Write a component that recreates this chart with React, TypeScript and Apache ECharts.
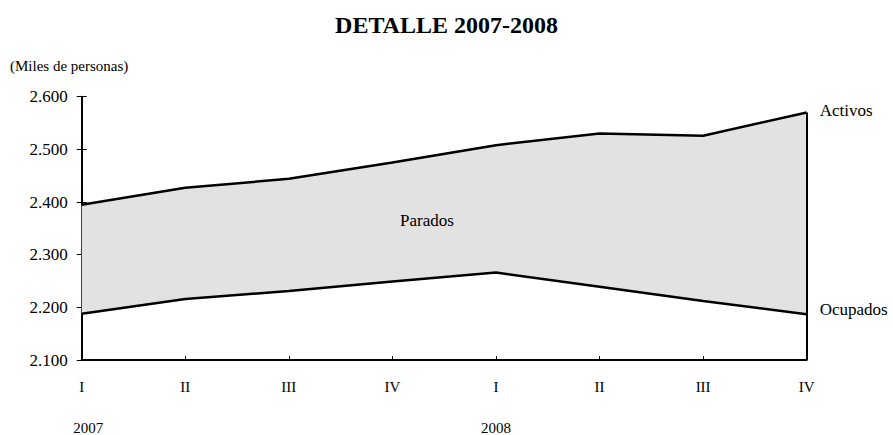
import React, { useEffect, useRef } from "react";
import * as echarts from "echarts";

const quarters = ["I", "II", "III", "IV", "I", "II", "III", "IV"];
const years = ["2007", "", "", "", "2008", "", "", ""];
const activos = [2395, 2427, 2444, 2475, 2508, 2530, 2526, 2570];
const ocupados = [2188, 2216, 2231, 2249, 2266, 2239, 2212, 2187];
const yTicks = { min: 2100, max: 2600, interval: 100 };

const FONT = "Liberation Serif";

function fmt(v: number) {
  const s = String(Math.round(v));
  return s.length > 3 ? s.slice(0, s.length - 3) + "." + s.slice(-3) : s;
}

export default function App() {
  const ref = useRef<HTMLDivElement>(null);
  useEffect(() => {
    document.body.style.margin = "0";
    const chart = echarts.init(ref.current!, undefined, { renderer: "svg" });
    const parados = activos.map((a, i) => a - ocupados[i]);
    const last = quarters.length - 1;
    chart.setOption({
      animation: false,
      backgroundColor: "#ffffff",
      title: {
        text: "DETALLE 2007-2008",
        left: "center",
        top: 8,
        textStyle: { fontFamily: FONT, fontSize: 24, fontWeight: "bold", color: "#000" },
      },
      grid: { left: 81.7, right: 86.3, top: 96.7, bottom: 72.5 },
      xAxis: [
        {
          type: "category",
          data: quarters,
          boundaryGap: false,
          axisLine: { lineStyle: { color: "#000", width: 2 } },
          axisTick: { inside: true, length: 4, lineStyle: { color: "#000", width: 1 } },
          axisLabel: { fontFamily: FONT, fontSize: 15, color: "#000", margin: 19 },
          splitLine: { show: false },
        },
        {
          type: "category",
          data: years,
          boundaryGap: false,
          position: "bottom",
          offset: 41,
          axisLine: { show: false },
          axisTick: { show: false },
          axisLabel: {
            fontFamily: FONT,
            fontSize: 15,
            color: "#000",
            margin: 19,
            interval: 0,
            formatter: (v: string, i: number) => (i === 0 ? `{a|${v}}` : v),
            rich: { a: { fontFamily: FONT, fontSize: 15, color: "#000", padding: [0, 0, 0, 13] } },
          },
          splitLine: { show: false },
        },
      ],
      yAxis: [
        {
          type: "value",
          min: yTicks.min,
          max: yTicks.max,
          interval: yTicks.interval,
          axisLine: { show: true, lineStyle: { color: "#000", width: 2 } },
          axisTick: { show: true, length: 5, lineStyle: { color: "#000", width: 1 } },
          axisLabel: { fontFamily: FONT, fontSize: 17, color: "#000", margin: 14, formatter: fmt },
          splitLine: { show: false },
        },
        {
          type: "value",
          min: yTicks.min,
          max: yTicks.max,
          interval: yTicks.interval,
          position: "left",
          axisLine: { show: false },
          axisTick: { show: true, inside: true, length: 5, lineStyle: { color: "#000", width: 1 } },
          axisLabel: { show: false },
          splitLine: { show: false },
        },
      ],
      series: [
        {
          name: "Ocupados",
          type: "line",
          stack: "total",
          data: ocupados,
          symbol: "none",
          lineStyle: { color: "#000", width: 2.5 },
          itemStyle: { color: "#000" },
          z: 3,
          endLabel: {
            show: true,
            formatter: "Ocupados",
            fontFamily: FONT,
            fontSize: 17,
            color: "#000",
            distance: 13,
            offset: [0, -5],
          },
          markLine: {
            silent: true,
            symbol: "none",
            label: { show: false },
            lineStyle: { color: "#000", width: 2, type: "solid" },
            data: [[{ coord: [last, yTicks.min] }, { coord: [last, activos[last]] }]],
          },
        },
        {
          name: "Activos",
          type: "line",
          stack: "total",
          data: parados,
          symbol: "none",
          lineStyle: { color: "#000", width: 2.5 },
          itemStyle: { color: "#000" },
          areaStyle: { color: "#e2e2e2", opacity: 1 },
          z: 2,
          endLabel: {
            show: true,
            formatter: "Activos",
            fontFamily: FONT,
            fontSize: 17,
            color: "#000",
            distance: 13,
            offset: [0, -2],
          },
        },
      ],
      graphic: [
        {
          type: "text",
          left: 10,
          top: 58,
          z: 100,
          style: { text: "(Miles de personas)", font: `15px "${FONT}"`, fill: "#000" },
        },
        {
          type: "text",
          left: 400,
          top: 212,
          z: 100,
          style: { text: "Parados", font: `17px "${FONT}"`, fill: "#000" },
        },
      ],
    });
    return () => chart.dispose();
  }, []);
  return <div ref={ref} style={{ width: 893, height: 435 }} />;
}
